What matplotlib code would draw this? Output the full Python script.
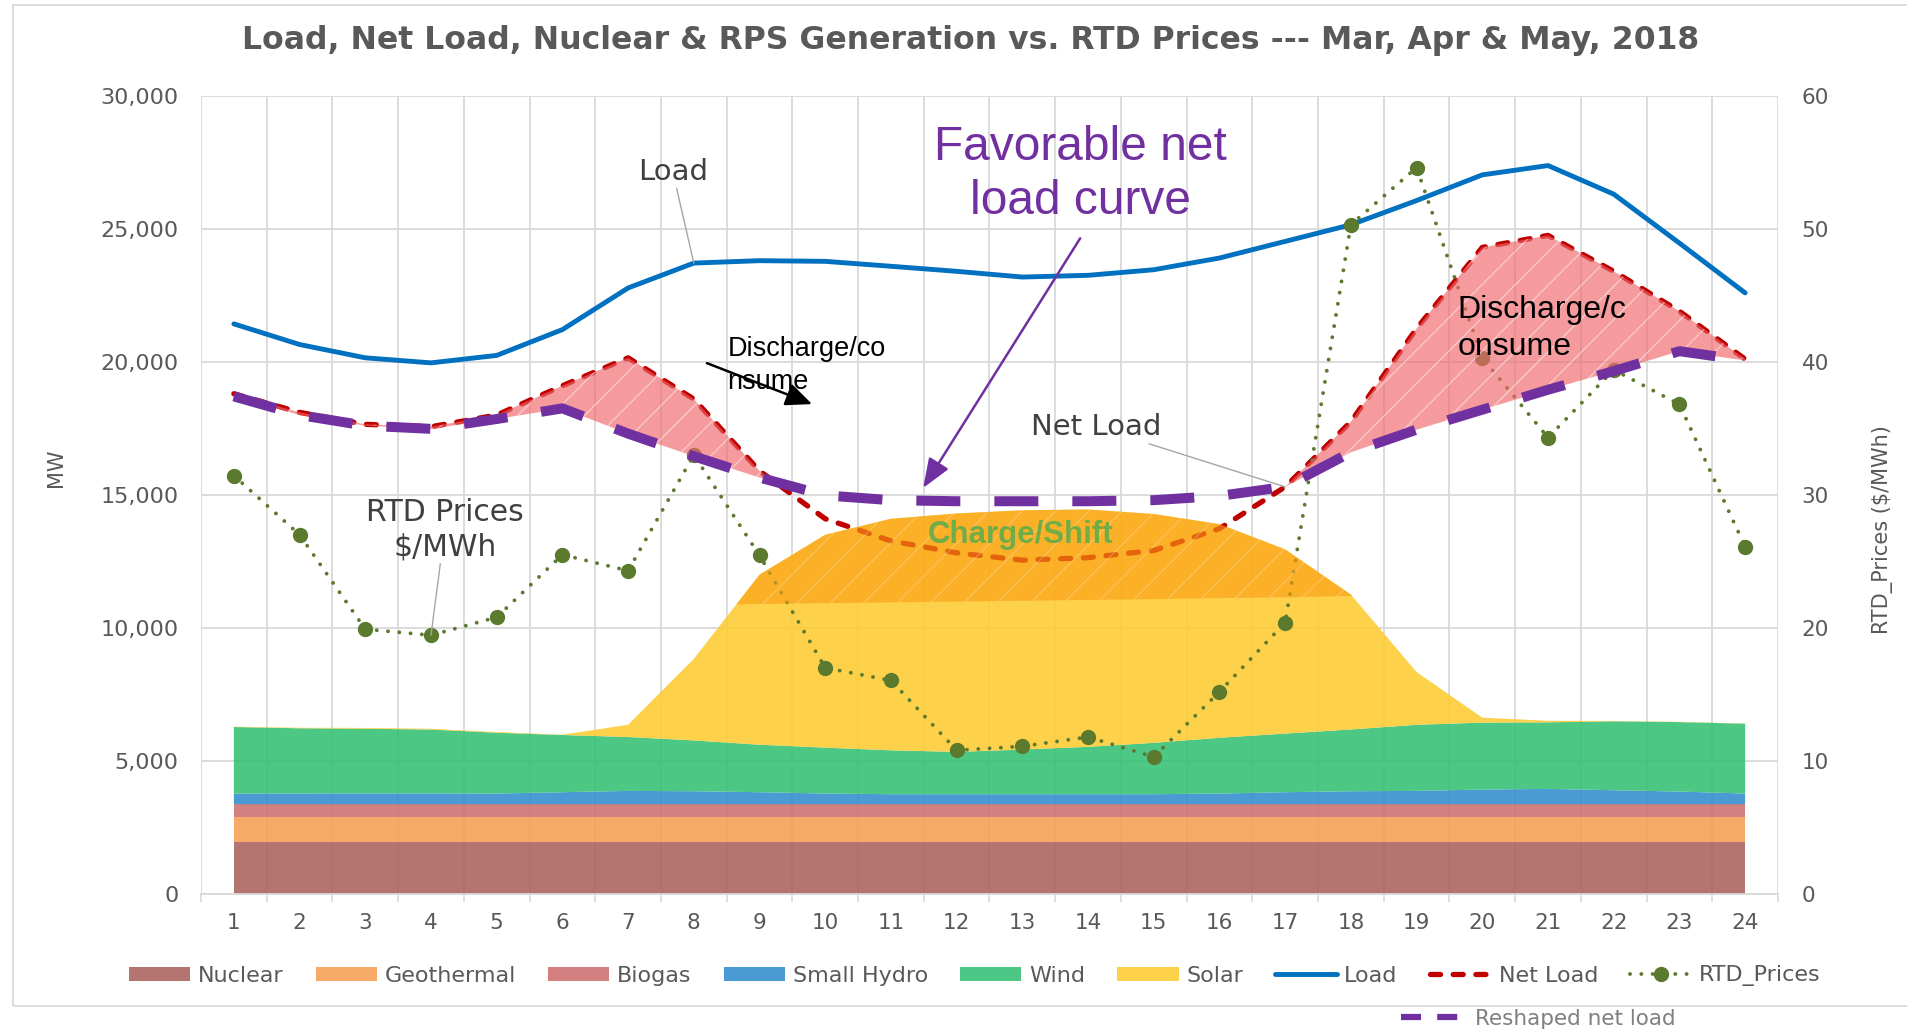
import numpy as np
import matplotlib
matplotlib.use("Agg")
import matplotlib.pyplot as plt
import matplotlib.colors as mcolors
from matplotlib.lines import Line2D
from matplotlib.patches import Patch, Rectangle
from matplotlib.ticker import FuncFormatter, MultipleLocator

plt.rcParams['font.family'] = ['DejaVu Sans']
plt.rcParams['hatch.linewidth'] = 1.0

# ---------------- data ----------------
hours = list(range(1, 25))
nuclear = [1960] * 24
geothermal = [940] * 24
biogas = [475] * 24
small_hydro = [400, 403, 405, 405, 400, 450, 500, 487, 450, 400, 375, 375,
               375, 375, 375, 400, 450, 487, 500, 550, 575, 525, 475, 400]
wind = [2500, 2450, 2430, 2400, 2285, 2150, 2025, 1910, 1785, 1725, 1650, 1590,
        1680, 1780, 1930, 2095, 2205, 2320, 2485, 2515, 2500, 2590, 2610, 2625]
solar = [15, 20, 30, 30, 25, 10, 460, 3065, 6390, 8000, 8700, 8960,
         8990, 8920, 8600, 8030, 6920, 5070, 1980, 185, 60, 15, 10, 5]
load = [21425, 20650, 20150, 19960, 20240, 21210, 22775, 23710, 23800, 23775, 23590, 23400,
        23185, 23250, 23460, 23900, 24525, 25150, 26060, 27025, 27375, 26300, 24460, 22590]
net_load = [18800, 18100, 17650, 17560, 18000, 19100, 20150, 18600, 15900, 14100, 13270, 12820,
            12545, 12640, 12910, 13730, 15300, 17750, 21250, 24300, 24750, 23400, 21900, 20100]
reshaped_net_load = [18700, 18000, 17600, 17480, 17850, 18250, 17300, 16450, 15650, 14980, 14800, 14760,
                     14760, 14760, 14800, 14960, 15300, 16600, 17450, 18200, 18950, 19650, 20400, 20050]
rtd_prices = [31.45, 27.0, 19.9, 19.45, 20.8, 25.5, 24.3, 33.0, 25.45, 17.0, 16.05, 10.8,
              11.1, 11.8, 10.3, 15.2, 20.4, 50.3, 54.6, 40.3, 34.3, 39.4, 36.8, 26.1]
# hours 8..19: floor of the "Charge/Shift" region
charge_hours = list(range(8, 20))
charge_floor = [10870, 10900, 10930, 10960, 10990, 11020, 11050, 11080, 11120, 11150, 11200, 11230]

stack_labels = ['Nuclear', 'Geothermal', 'Biogas', 'Small Hydro', 'Wind', 'Solar']
stack_colors = ['#b47470', '#f7aa67', '#d48080', '#4a9ad4', '#4cc785', '#fdd149']

TITLE = 'Load, Net Load, Nuclear & RPS Generation vs. RTD Prices --- Mar, Apr & May, 2018'

C_LOAD = '#0070c0'
C_NET = '#c00000'
C_RTD = '#5b7a2e'
C_PURPLE = '#7030a0'
GRID = '#d9d9d9'
TXT = '#595959'

AREA_ALPHA = 0.9


def base_color(hexcol, a):
    rgb = mcolors.to_rgb(hexcol)
    return tuple(min(1, max(0, (c - (1 - a)) / a)) for c in rgb)


# ---------------- figure ----------------
W, H = 1908, 1029
fig = plt.figure(figsize=(W / 100, H / 100), dpi=100)
ax = fig.add_axes([201 / W, 1 - 894 / H, (1778 - 201) / W, (894 - 95.7) / H])
ax2 = ax.twinx()

# stacked areas
ax.stackplot(hours, nuclear, geothermal, biogas, small_hydro, wind, solar,
             colors=[base_color(c, AREA_ALPHA) for c in stack_colors],
             alpha=AREA_ALPHA, linewidth=0, zorder=2)

# lines on primary axis
NET_DASH = (1.9, 2.4)
ax.plot(hours, load, color=C_LOAD, lw=3.5, solid_capstyle='round', zorder=3)
ax.plot(hours, net_load, color=C_NET, lw=3.8, dashes=NET_DASH,
        dash_capstyle='round', zorder=3)

# RTD prices on secondary axis
RTD_DASH = (0.01, 2.9)
ax2.plot(hours, rtd_prices, color=C_RTD, lw=2.8, dashes=RTD_DASH,
         dash_capstyle='round', marker='o', markersize=10, zorder=2)

# overlays (drawn on ax2 so they cover the RTD line), in MW coordinates
nl = np.array(net_load, float)
rs = np.array(reshaped_net_load, float)
ax2.fill_between(hours, nl, rs, where=nl > rs, interpolate=True,
                 transform=ax.transData, facecolor=(0.94, 0.40, 0.42, 0.65),
                 edgecolor=(1, 1, 1, 0.45), hatch='/', linewidth=0, zorder=3)

stack_top = np.sum([nuclear, geothermal, biogas, small_hydro, wind, solar], axis=0)
ch_idx = [h - 1 for h in charge_hours]
top_c = stack_top[ch_idx]
floor_c = np.array(charge_floor, float)
ax2.fill_between(charge_hours, top_c, floor_c, where=top_c > floor_c, interpolate=True,
                 transform=ax.transData, facecolor=(0.98, 0.62, 0.08, 0.64),
                 edgecolor=(1, 1, 1, 0.22), hatch='/', linewidth=0, zorder=3)

ax2.plot(hours, reshaped_net_load, color=C_PURPLE, lw=7.2, dashes=(4.4, 3.4),
         solid_capstyle='butt', dash_capstyle='butt', transform=ax.transData, zorder=4)

# ---------------- axes styling ----------------
ax.set_xlim(0.5, 24.5)
ax.set_ylim(0, 30000)
ax2.set_ylim(0, 60)
ax.yaxis.set_major_locator(MultipleLocator(5000))
ax.yaxis.set_major_formatter(FuncFormatter(lambda v, p: f'{int(v):,}'))
ax2.yaxis.set_major_locator(MultipleLocator(10))
ax.set_xticks(hours)
ax.set_xticks(np.arange(0.5, 25, 1), minor=True)
ax.tick_params(axis='x', which='major', length=0, pad=14, labelsize=15.5, labelcolor=TXT)
ax.tick_params(axis='x', which='minor', length=6, width=1.2, color=GRID, direction='out')
ax.tick_params(axis='y', length=0, pad=16, labelsize=16, labelcolor=TXT)
ax2.tick_params(axis='y', length=0, pad=17, labelsize=15.5, labelcolor=TXT)
ax.grid(axis='x', which='minor', color=GRID, lw=1.3)
ax.grid(axis='y', which='major', color=GRID, lw=1.3)
ax.set_axisbelow(True)
for s in ['top', 'left', 'right']:
    ax.spines[s].set_visible(False)
ax.spines['bottom'].set_color(GRID)
ax.spines['bottom'].set_linewidth(1.3)
for s in ax2.spines.values():
    s.set_visible(False)

ax.set_ylabel('MW', fontsize=15, color=TXT)
ax.yaxis.set_label_coords(-0.0856, 0.534)
ax2.set_ylabel('RTD_Prices ($/MWh)', fontsize=15, color=TXT, rotation=90)
ax2.yaxis.set_label_coords(1.0596, 0.457)

# title
fig.text(971 / W, 1 - 41 / H, TITLE, ha='center', va='center', fontsize=22.7,
         fontweight='bold', color=TXT, family='DejaVu Sans')

# ---------------- annotations ----------------
LBL = '#404040'
LEAD = '#a6a6a6'
ax2.annotate('Load', xy=(8, load[7]), xycoords=ax.transData,
             xytext=(7.68, 27150), textcoords=ax.transData, ha='center', va='center',
             fontsize=21, color=LBL,
             arrowprops=dict(arrowstyle='-', color=LEAD, lw=1.0, shrinkA=0, shrinkB=0), zorder=6)
ax2.annotate('Net Load', xy=(17, net_load[16]), xycoords=ax.transData,
             xytext=(14.12, 17550), textcoords=ax.transData, ha='center', va='center',
             fontsize=21, color=LBL,
             arrowprops=dict(arrowstyle='-', color=LEAD, lw=1.0, shrinkA=0, shrinkB=0), zorder=6)
ax2.annotate('RTD Prices\n$/MWh', xy=(4, rtd_prices[3]), xycoords=ax2.transData,
             xytext=(4.21, 13690), textcoords=ax.transData, ha='center', va='center',
             fontsize=21.5, color=LBL, linespacing=1.2,
             arrowprops=dict(arrowstyle='-', color=LEAD, lw=1.0, shrinkA=0, shrinkB=0), zorder=6)

ax2.text(13.89, 27050, 'Favorable net\nload curve', transform=ax.transData,
         ha='center', va='center', fontsize=34.5, color=C_PURPLE, family='Liberation Sans',
         linespacing=1.25, zorder=6)
ax2.annotate('', xy=(11.49, 15260), xycoords=ax.transData,
             xytext=(13.88, 24640), textcoords=ax.transData,
             arrowprops=dict(arrowstyle='-|>,head_length=0.9,head_width=0.35', color=C_PURPLE,
                             lw=1.8, shrinkA=0, shrinkB=0, mutation_scale=20), zorder=6)

ax2.text(8.51, 19850, 'Discharge/co\nnsume', transform=ax.transData, ha='left', va='center',
         fontsize=19.5, color='black', family='Liberation Sans', linespacing=1.35, zorder=6)
ax2.annotate('', xy=(9.80, 18410), xycoords=ax.transData,
             xytext=(8.20, 19950), textcoords=ax.transData,
             arrowprops=dict(arrowstyle='-|>,head_length=0.8,head_width=0.35', color='black',
                             lw=1.8, shrinkA=0, shrinkB=0, mutation_scale=20), zorder=6)
ax2.text(19.62, 21250, 'Discharge/c\nonsume', transform=ax.transData, ha='left', va='center',
         fontsize=23, color='black', family='Liberation Sans', linespacing=1.3, zorder=6)
ax2.text(12.98, 13500, 'Charge/Shift', transform=ax.transData, ha='center', va='center',
         fontsize=22.5, color='#70ad47', fontweight='bold', family='Liberation Sans', zorder=6)

# ---------------- legends ----------------
handles = [Patch(facecolor=c, edgecolor='none') for c in stack_colors]
handles += [
    Line2D([], [], color=C_LOAD, lw=3.5, solid_capstyle='round'),
    Line2D([], [], color=C_NET, lw=3.8, dashes=NET_DASH, dash_capstyle='round'),
    Line2D([], [], color=C_RTD, lw=2.8, dashes=RTD_DASH, dash_capstyle='round',
           marker='o', markersize=10),
]
labels = stack_labels + ['Load', 'Net Load', 'RTD_Prices']
fig.legend(handles, labels, loc='center', bbox_to_anchor=(975 / W, 1 - 976 / H), ncol=9,
           frameon=False, fontsize=16, handlelength=2.75, handleheight=0.6,
           handletextpad=0.35, columnspacing=1.45, labelcolor=TXT, numpoints=1)
fig.legend([Line2D([], [], color=C_PURPLE, lw=4.5, dashes=(3.2, 2.6))], ['Reshaped net load'],
           loc='center left', bbox_to_anchor=((1391 - 9) / W, 1 - 1019 / H), frameon=False,
           fontsize=15.5, handlelength=2.7, handletextpad=0.7, labelcolor='#7f7f7f')

# chart border
fig.add_artist(Rectangle((13 / W, 1 - 1006 / H), 1.2, (1006 - 5) / H, transform=fig.transFigure,
                         fill=False, edgecolor=GRID, lw=1.3, clip_on=False))

fig.savefig('out.png', dpi=100)
